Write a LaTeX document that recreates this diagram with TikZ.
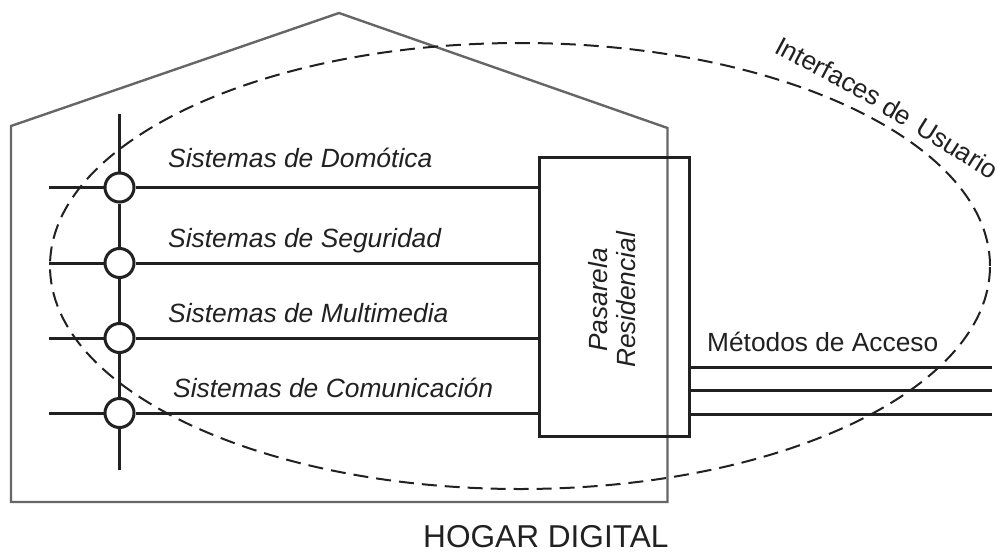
\documentclass[tikz,border=0pt]{standalone}
\usepackage{fontspec}
\setmainfont{Liberation Sans}
\usetikzlibrary{shapes.geometric}
\definecolor{ink}{gray}{0.13}
\tikzset{
  wire/.style={line width=3pt,draw=ink},
  junction/.style={circle,draw=ink,line width=3pt,fill=white,minimum size=29pt,inner sep=0pt},
  gateway/.style={draw=ink,line width=3pt,minimum width=149.5pt,minimum height=279.5pt,inner sep=0pt},
  housewall/.style={draw=black!60,line width=2.4pt,line join=miter},
  scope oval/.style={ellipse,draw=ink,line width=2pt,dash pattern=on 15pt off 8pt,minimum width=940pt,minimum height=446pt,inner sep=0pt},
  syslabel/.style={font=\fontsize{26.4}{28}\selectfont\itshape,anchor=base west,inner sep=0pt,text=ink},
  plainlabel/.style={font=\fontsize{26.3}{30}\selectfont,inner sep=0pt,text=ink},
  curvelabel/.style={plainlabel,anchor=base west},
}
\begin{document}
\begin{tikzpicture}[x=1pt,y=-1pt]
\useasboundingbox (0,0) rectangle (1002,552);
\fill[white] (0,0) rectangle (1002,552);
% house
\draw[housewall] (11,126) -- (339,13) -- (667.5,128) -- (667.5,502) -- (11,502) -- cycle;
% coordinates
\coordinate (top) at (119.5,114);
\coordinate (bot) at (119.5,470);
\coordinate (l1) at (49,187.5);
\coordinate (l2) at (49,263);
\coordinate (l3) at (49,338);
\coordinate (l4) at (49,413);
\coordinate (r1) at (992,367.5);
\coordinate (r2) at (992,390);
\coordinate (r3) at (992,414);
\node[gateway] (gw) at (614.5,297) {};
\node[junction] (j1) at (119.5,187.5) {};
\node[junction] (j2) at (119.5,263) {};
\node[junction] (j3) at (119.5,338) {};
\node[junction] (j4) at (119.5,413) {};
% wires
\draw[wire] (top) -- (j1);
\draw[wire] (j1) -- (j2);
\draw[wire] (j2) -- (j3);
\draw[wire] (j3) -- (j4);
\draw[wire] (j4) -- (bot);
\draw[wire] (l1) -- (j1); \draw[wire] (j1) -- (j1 -| gw.west);
\draw[wire] (l2) -- (j2); \draw[wire] (j2) -- (j2 -| gw.west);
\draw[wire] (l3) -- (j3); \draw[wire] (j3) -- (j3 -| gw.west);
\draw[wire] (l4) -- (j4); \draw[wire] (j4) -- (j4 -| gw.west);
\draw[wire] (r1 -| gw.east) -- (r1);
\draw[wire] (r2 -| gw.east) -- (r2);
\draw[wire] (r3 -| gw.east) -- (r3);
% ellipse
\node[scope oval] (oval) at (520,266) {};
% labels
\node[syslabel] (t1) at (168,167) {Sistemas de Domótica};
\node[syslabel] (t2) at (168,247) {Sistemas de Seguridad};
\node[syslabel] (t3) at (168,322) {Sistemas de Multimedia};
\node[syslabel] (t4) at (173,397) {Sistemas de Comunicación};
\node[plainlabel,anchor=base west] (t5) at (707,351) {Métodos de Acceso};
\node[plainlabel,font=\fontsize{31.6}{34}\selectfont,anchor=base west] (t6) at (423,547) {HOGAR DIGITAL};
\node[syslabel,anchor=center,rotate=90,align=center,font=\fontsize{26.3}{28}\selectfont\itshape] (t7) at (612,300) {Pasarela\\Residencial};
% the curved label: three words, each turned to follow the oval
\node[curvelabel,rotate=-28] (w1) at (773,52) {Interfaces};
\node[curvelabel,rotate=-30] (w2) at (880,112) {de};
\node[curvelabel,rotate=-32] (w3) at (914,132) {Usuario};
\end{tikzpicture}
\end{document}
